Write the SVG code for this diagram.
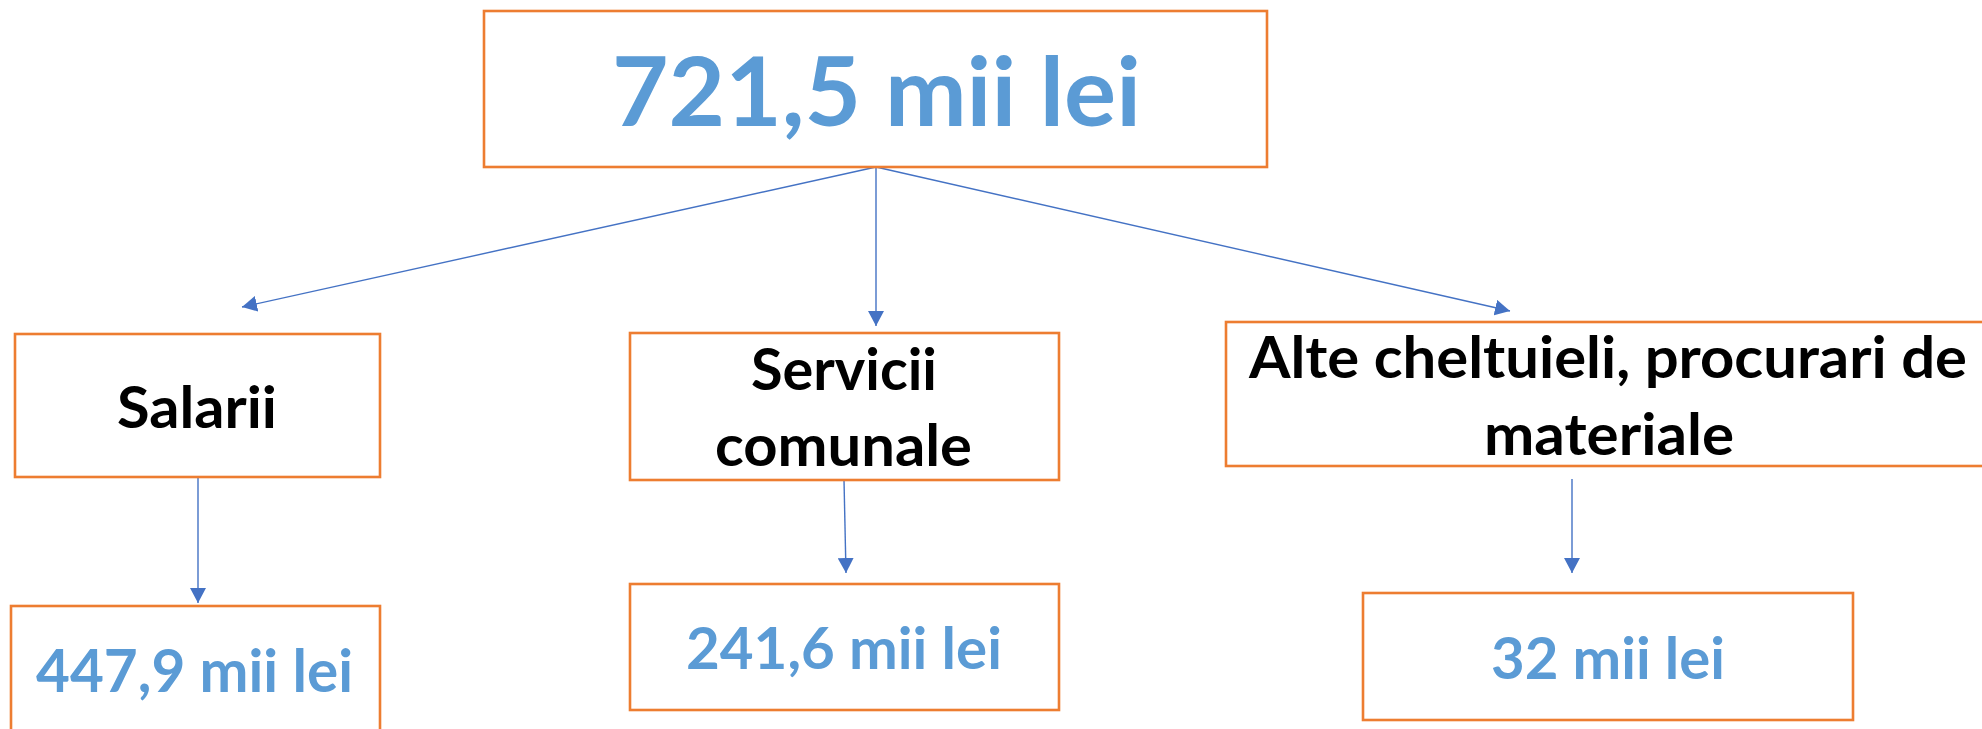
<svg xmlns="http://www.w3.org/2000/svg" width="1982" height="729" viewBox="0 0 1982 729">
<style>
.box{fill:#ffffff;stroke:#ED7D31;stroke-width:2.6}
.lbl{font-family:Lato,"Open Sans","Liberation Sans",sans-serif;font-weight:bold;fill:#000000}
.val{font-family:Lato,"Open Sans","Liberation Sans",sans-serif;font-weight:bold;fill:#5B9BD5}
.conn{stroke:#4472C4;stroke-width:1.4;fill:none;marker-end:url(#arr)}
</style>
<defs>
<marker id="arr" markerUnits="userSpaceOnUse" markerWidth="16" markerHeight="16" refX="15" refY="8" orient="auto">
<path d="M0,0 L15,8 L0,16 z" fill="#4472C4"/>
</marker>
</defs>
<rect width="1982" height="729" fill="#ffffff"/>
<g id="connectors">
<line class="conn" x1="876" y1="167" x2="242" y2="307"/>
<line class="conn" x1="876" y1="167" x2="876" y2="326"/>
<line class="conn" x1="876" y1="167" x2="1510" y2="311"/>
<line class="conn" x1="198" y1="477" x2="198" y2="603"/>
<line class="conn" x1="844" y1="480" x2="846" y2="573"/>
<line class="conn" x1="1572" y1="479" x2="1572" y2="573"/>
</g>
<g id="total">
<rect class="box" x="484" y="11" width="783" height="156"/>
<text class="val" x="612" y="126" font-size="96" textLength="529" lengthAdjust="spacingAndGlyphs">721,5 mii lei</text>
</g>
<g id="salarii">
<rect class="box" x="15" y="334" width="365" height="143"/>
<text class="lbl" x="117" y="428" font-size="58" textLength="160" lengthAdjust="spacingAndGlyphs">Salarii</text>
</g>
<g id="servicii">
<rect class="box" x="630" y="333" width="429" height="147"/>
<text class="lbl" x="751" y="390" font-size="57" textLength="186" lengthAdjust="spacingAndGlyphs">Servicii</text>
<text class="lbl" x="715" y="466" font-size="57" textLength="257" lengthAdjust="spacingAndGlyphs">comunale</text>
</g>
<g id="alte">
<rect class="box" x="1226" y="322" width="800" height="144"/>
<text class="lbl" x="1249" y="378" font-size="57" textLength="718" lengthAdjust="spacingAndGlyphs">Alte cheltuieli, procurari de</text>
<text class="lbl" x="1484" y="455" font-size="57" textLength="250" lengthAdjust="spacingAndGlyphs">materiale</text>
</g>
<g id="val-salarii">
<rect class="box" x="11" y="606" width="369" height="150"/>
<text class="val" x="36" y="692" font-size="59" textLength="317" lengthAdjust="spacingAndGlyphs">447,9 mii lei</text>
</g>
<g id="val-servicii">
<rect class="box" x="630" y="584" width="429" height="126"/>
<text class="val" x="686" y="669" font-size="57" textLength="316" lengthAdjust="spacingAndGlyphs">241,6 mii lei</text>
</g>
<g id="val-alte">
<rect class="box" x="1363" y="593" width="490" height="127"/>
<text class="val" x="1491" y="679" font-size="57" textLength="234" lengthAdjust="spacingAndGlyphs">32 mii lei</text>
</g>
</svg>
